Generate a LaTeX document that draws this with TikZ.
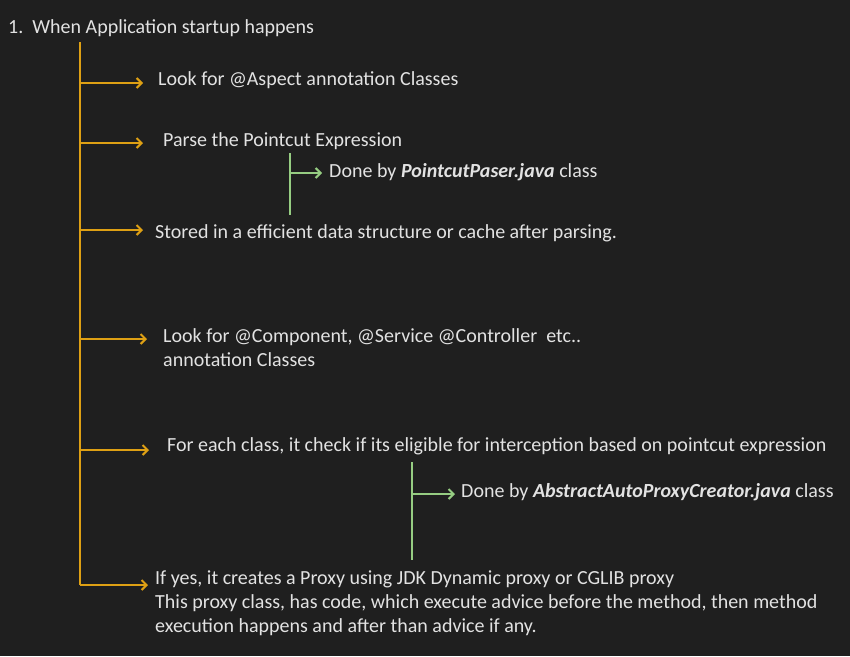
\documentclass[tikz,border=0pt]{standalone}
\usepackage{fontspec}
\setmainfont{Carlito}
\usetikzlibrary{arrows.meta}
\definecolor{bgdark}{RGB}{31,31,31}
\definecolor{flowor}{RGB}{222,160,20}
\definecolor{subgr}{RGB}{150,205,130}
\definecolor{txtgr}{RGB}{226,226,226}
\tikzset{
  lbl/.style={anchor=west, inner sep=0pt, text=txtgr, align=left,
    font=\fontsize{20}{24}\selectfont},
  trunk/.style={draw=flowor, line width=2pt},
  trunkarrow/.style={trunk, -{Straight Barb[length=5pt,width=10pt]}},
  sub/.style={draw=subgr, line width=2pt},
  subarrow/.style={sub, -{Straight Barb[length=5pt,width=10pt]}}
}
\begin{document}
\begin{tikzpicture}[x=1pt,y=-1pt]
		%%%%% BACKGROUND %%%%%
		\fill[bgdark] (0,0) rectangle (850,656);
		\useasboundingbox (0,0) rectangle (850,656);
		
		%%%%% TEXTS %%%%%
		\node[lbl] (title) at (8,28) {1.\ \ When Application startup happens};
		\node[lbl] (aspect) at (158,80) {Look for @Aspect annotation Classes};
		\node[lbl] (parse) at (163,141) {Parse the Pointcut Expression};
		\node[lbl] (parser) at (329,172) {Done by \textbf{\textit{PointcutPaser.java}} class};
		\node[lbl] (stored) at (155,233) {Stored in a efficient data structure or cache after parsing.};
		\node[lbl] (comp) at (163,347.5) {Look for @Component, @Service @Controller\ \ etc..\\annotation Classes};
		\node[lbl] (check) at (167,446) {For each class, it check if its eligible for interception based on pointcut expression};
		\node[lbl] (creator) at (461,492) {Done by \textbf{\textit{AbstractAutoProxyCreator.java}} class};
		\node[lbl] (proxy) at (155,603) {If yes, it creates a Proxy using JDK Dynamic proxy or CGLIB proxy\\This proxy class, has code, which execute advice before the method, then method\\execution happens and after than advice if any.};
		
		%%%%% MAIN TRUNK %%%%%
		\coordinate (top) at (80,42);
		\coordinate (b1) at (80,83);
		\coordinate (b2) at (80,143);
		\coordinate (b3) at (80,230);
		\coordinate (b4) at (80,339);
		\coordinate (b5) at (80,450);
		\coordinate (b6) at (80,585);
		\draw[trunk] (top) -- (b6);
		\draw[trunkarrow, shorten >=15pt] (b1) -- (b1 -| aspect.west);
		\draw[trunkarrow, shorten >=20pt] (b2) -- (b2 -| parse.west);
		\draw[trunkarrow, shorten >=12pt] (b3) -- (b3 -| stored.west);
		\draw[trunkarrow, shorten >=16pt] (b4) -- (b4 -| comp.west);
		\draw[trunkarrow, shorten >=18pt] (b5) -- (b5 -| check.west);
		\draw[trunkarrow, shorten >=7pt] (b6) -- (b6 -| proxy.west);
		
		%%%%% SUB BRANCHES %%%%%
		\coordinate (s1top) at (290,153);
		\coordinate (s1bot) at (290,215);
		\coordinate (s1) at (290,173);
		\draw[sub] (s1top) -- (s1bot);
		\draw[subarrow, shorten >=7pt] (s1) -- (s1 -| parser.west);
		
		\coordinate (s2top) at (412,462);
		\coordinate (s2bot) at (412,560);
		\coordinate (s2) at (412,494);
		\draw[sub] (s2top) -- (s2bot);
		\draw[subarrow, shorten >=6pt] (s2) -- (s2 -| creator.west);
		%%%%% END %%%%%
	\end{tikzpicture}
\end{document}
